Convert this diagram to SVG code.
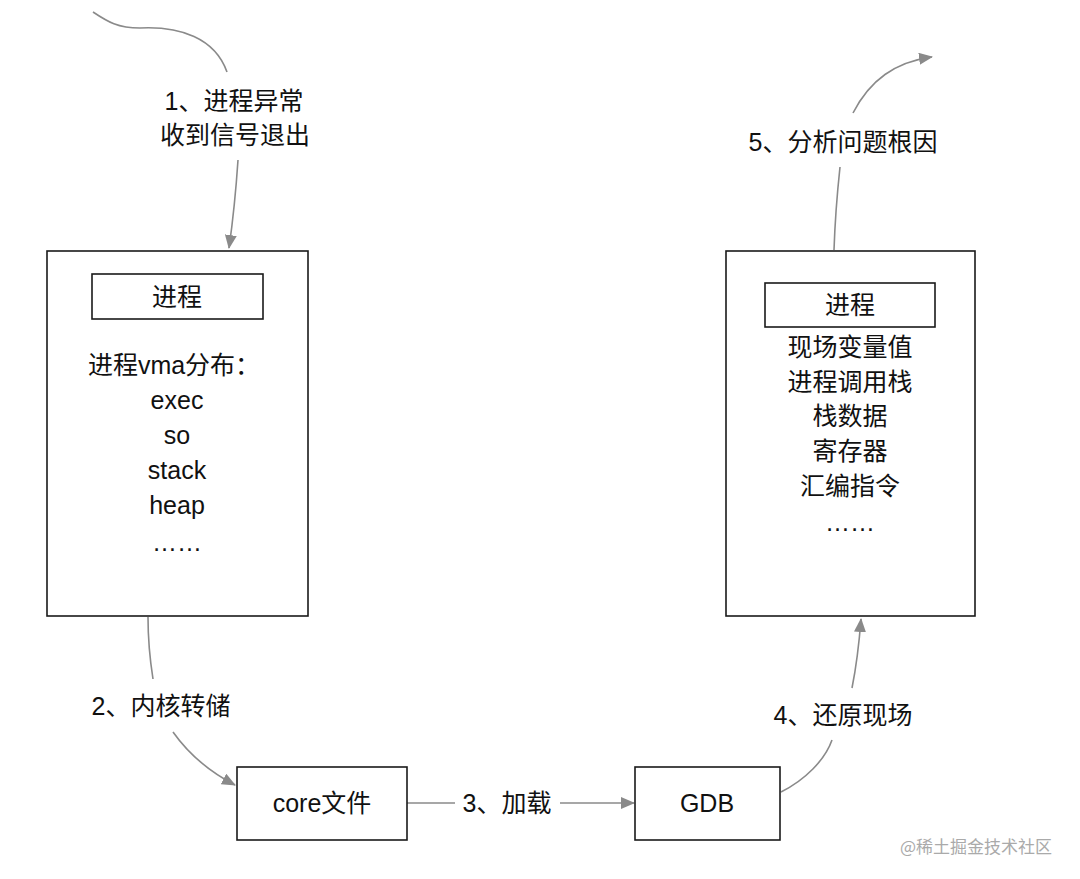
<svg xmlns="http://www.w3.org/2000/svg" width="1080" height="879" viewBox="0 0 1080 879">
<defs>
<marker id="arr" viewBox="0 0 14 12" refX="13" refY="6" markerWidth="14" markerHeight="12" markerUnits="userSpaceOnUse" orient="auto">
<path d="M0,0 L14,6 L0,12 z" fill="#8a8a8a"/>
</marker>
<style>
.box{fill:#fff;stroke:#1a1a1a;stroke-width:1.6}
.t{font-family:"Liberation Sans","Noto Sans CJK SC",sans-serif;font-size:25px;fill:#111;text-anchor:middle;dominant-baseline:central}
.c{fill:none;stroke:#8a8a8a;stroke-width:1.6}
.wm{font-family:"Noto Sans CJK SC",sans-serif;font-size:17px;fill:#aaa;text-anchor:middle;dominant-baseline:central}
</style>
</defs>
<rect width="1080" height="879" fill="#fff"/>
<g id="connectors">
<path class="c" d="M93,12 C108,22 118,28 140,28 C180,26 215,38 227,72"/>
<path class="c" d="M238,160 C236,190 233,220 229,248" marker-end="url(#arr)"/>
<path class="c" d="M148,617 C148,640 150,660 153,679"/>
<path class="c" d="M173,732 C190,756 210,772 235,785" marker-end="url(#arr)"/>
<path class="c" d="M407,803 L455,803"/>
<path class="c" d="M560,803 L634,803" marker-end="url(#arr)"/>
<path class="c" d="M781,792 C805,780 825,760 832,740"/>
<path class="c" d="M852,688 C856,668 859,645 861,619" marker-end="url(#arr)"/>
<path class="c" d="M834,250 C835,220 837,195 840,167"/>
<path class="c" d="M853,113 C870,80 895,62 932,57" marker-end="url(#arr)"/>
</g>
<g id="label1"><text class="t" x="234" y="101">1、进程异常</text><text class="t" x="235" y="135">收到信号退出</text></g>
<g id="label2"><text class="t" x="161" y="706">2、内核转储</text></g>
<g id="label3"><text class="t" x="507" y="803">3、加载</text></g>
<g id="label4"><text class="t" x="843" y="715">4、还原现场</text></g>
<g id="label5"><text class="t" x="843" y="142">5、分析问题根因</text></g>
<g id="process-left">
<rect class="box" x="47" y="251" width="261" height="365"/>
<rect class="box" x="92" y="274" width="171" height="45"/>
<text class="t" x="177" y="297">进程</text>
<text class="t" x="174" y="365">进程vma分布：</text>
<text class="t" x="177" y="400">exec</text>
<text class="t" x="177" y="435">so</text>
<text class="t" x="177" y="470">stack</text>
<text class="t" x="177" y="505">heap</text>
<text class="t" x="177" y="542">……</text>
</g>
<g id="process-right">
<rect class="box" x="726" y="251" width="249" height="365"/>
<rect class="box" x="765" y="283" width="170" height="44"/>
<text class="t" x="850" y="305">进程</text>
<text class="t" x="850" y="347">现场变量值</text>
<text class="t" x="850" y="382">进程调用栈</text>
<text class="t" x="850" y="416">栈数据</text>
<text class="t" x="850" y="451">寄存器</text>
<text class="t" x="850" y="486">汇编指令</text>
<text class="t" x="850" y="522">……</text>
</g>
<g id="core-file">
<rect class="box" x="237" y="767" width="170" height="73"/>
<text class="t" x="322" y="803">core文件</text>
</g>
<g id="gdb">
<rect class="box" x="635" y="767" width="145" height="73"/>
<text class="t" x="707" y="803">GDB</text>
</g>
<text class="wm" x="976" y="845">@稀土掘金技术社区</text>
</svg>
